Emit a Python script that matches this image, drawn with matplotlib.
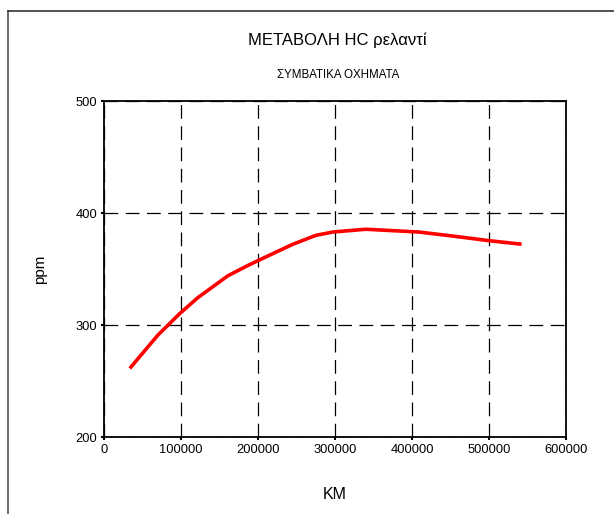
import matplotlib
matplotlib.use("Agg")
from matplotlib import pyplot as plt
from matplotlib.lines import Line2D

km = [35000, 70000, 98000, 122000, 144000, 161000, 185000, 200000,
      245000, 275000, 297000, 340000, 409000, 452000, 500000, 540000]
ppm = [262.5, 291, 310, 324.5, 335.5, 344, 352.5, 357.5,
       372, 380, 383, 385.5, 383, 379.5, 375.3, 372.3]
xticks = [0, 100000, 200000, 300000, 400000, 500000, 600000]
yticks = [200, 300, 400, 500]


def main():
    plt.rcParams['font.family'] = ['Liberation Sans', 'DejaVu Sans']
    fig = plt.figure(figsize=(6.14, 5.14), dpi=100)
    ax = fig.add_axes([0.1694, 0.1498, 0.7524, 0.6537])

    ax.plot(km, ppm, color='red', linewidth=2.6, solid_joinstyle='round')

    ax.set_xlim(0, 600000)
    ax.set_ylim(200, 500)
    ax.set_xticks(xticks)
    ax.set_xticklabels([str(t) for t in xticks])
    ax.set_yticks(yticks)
    ax.tick_params(labelsize=9.3, length=2, width=1.5, direction='out', pad=3)
    ax.grid(True, color='black', linestyle=(0, (11, 6)), linewidth=0.9)
    for s in ax.spines.values():
        s.set_linewidth(1.3)

    ax.set_xlabel('KM', fontsize=11.5, labelpad=22)
    ax.set_ylabel('ppm', fontsize=11, labelpad=20)

    fig.text(0.55, 0.922, 'ΜΕΤΑΒΟΛΗ HC ρελαντί', ha='center', va='center', fontsize=12)
    fig.text(0.55, 0.855, 'ΣΥΜΒΑΤΙΚΑ ΟΧΗΜΑΤΑ', ha='center', va='center', fontsize=8.3)

    # outer frame (left and top only visible)
    fig.add_artist(Line2D([0.013, 0.013], [0, 0.979], transform=fig.transFigure,
                          color='#555555', linewidth=1.2))
    fig.add_artist(Line2D([0.013, 1.0], [0.979, 0.979], transform=fig.transFigure,
                          color='#333333', linewidth=1.2))

    fig.savefig('out.png', dpi=100)


if __name__ == "__main__":
    main()
